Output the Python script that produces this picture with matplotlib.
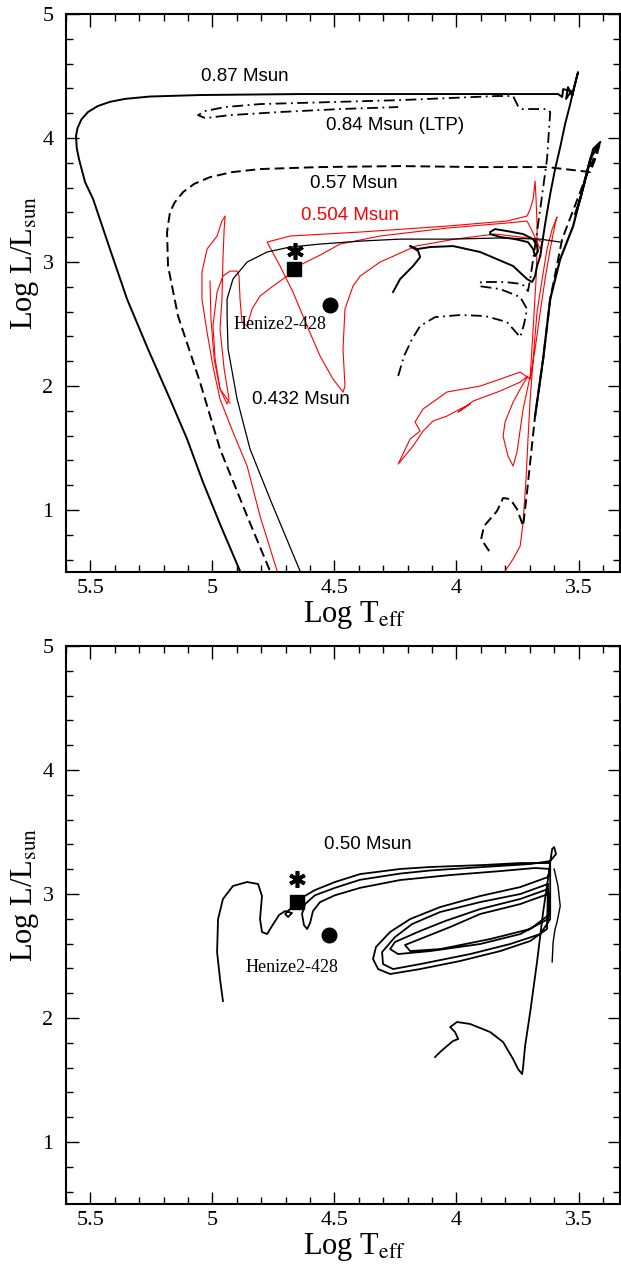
import matplotlib
matplotlib.use('Agg')
import matplotlib.pyplot as plt
from matplotlib.ticker import MultipleLocator, FuncFormatter

plt.rcParams['font.family'] = ['Liberation Serif', 'DejaVu Serif']
plt.rcParams['mathtext.fontset'] = 'stix'

# ---------------- data (log Teff, log L/Lsun) ----------------
# top panel tracks
trk_087_pre = [(4.260, 2.758), (4.231, 2.863), (4.178, 2.968), (4.149, 3.040), (4.157, 3.089),
               (4.190, 3.129), (4.161, 3.105), (4.108, 3.121), (4.014, 3.129), (3.903, 3.081),
               (3.768, 2.968), (3.711, 2.863), (3.690, 2.839), (3.678, 2.887), (3.670, 2.968),
               (3.657, 3.048)]
trk_087 = [(3.657, 3.048), (3.637, 3.306), (3.616, 3.548), (3.596, 3.750), (3.575, 3.927),
           (3.555, 4.113), (3.534, 4.274), (3.518, 4.411), (3.502, 4.532), (3.514, 4.435),
           (3.526, 4.339), (3.543, 4.411), (3.551, 4.315), (3.530, 4.379), (3.563, 4.395),
           (3.567, 4.331), (3.584, 4.355), (3.657, 4.355), (3.821, 4.355), (4.231, 4.355),
           (4.641, 4.355), (5.051, 4.347), (5.256, 4.335), (5.358, 4.316), (5.420, 4.292),
           (5.470, 4.258), (5.510, 4.210), (5.537, 4.150), (5.553, 4.080), (5.559, 4.016),
           (5.556, 3.920), (5.547, 3.831), (5.522, 3.645),
           (5.489, 3.508), (5.420, 3.105), (5.350, 2.702), (5.264, 2.298), (5.174, 1.895),
           (5.104, 1.573), (5.039, 1.226), (4.969, 0.887), (4.887, 0.508)]
trk_084 = [(4.239, 2.081), (4.215, 2.242), (4.182, 2.379), (4.149, 2.484), (4.088, 2.556),
           (3.985, 2.573), (3.883, 2.565), (3.793, 2.516), (3.739, 2.395), (3.723, 2.500),
           (3.711, 2.621), (3.739, 2.718), (3.821, 2.782), (3.907, 2.806), (3.899, 2.839),
           (3.801, 2.839), (3.731, 2.823), (3.707, 2.766), (3.698, 2.863), (3.678, 3.129),
           (3.657, 3.427), (3.629, 3.831), (3.616, 4.210), (3.629, 4.234), (3.731, 4.234),
           (3.748, 4.258), (3.768, 4.339), (3.834, 4.339), (4.026, 4.323), (4.231, 4.306),
           (4.518, 4.290), (4.805, 4.274), (4.948, 4.250), (5.030, 4.218), (5.059, 4.185),
           (5.030, 4.161), (4.928, 4.185), (4.723, 4.210), (4.477, 4.234), (4.239, 4.250)]
trk_057 = [(3.866, 0.669), (3.899, 0.766), (3.887, 0.871), (3.834, 0.992), (3.809, 1.097),
           (3.780, 1.089), (3.752, 1.008), (3.727, 0.871), (3.711, 1.145), (3.678, 1.758),
           (3.645, 2.218), (3.616, 2.702), (3.567, 3.185), (3.473, 3.669), (3.411, 3.968),
           (3.424, 3.871), (3.452, 3.726), (3.629, 3.766), (3.903, 3.766), (4.231, 3.774),
           (4.559, 3.766), (4.805, 3.750), (4.920, 3.725), (5.010, 3.685), (5.075, 3.630),
           (5.120, 3.565), (5.155, 3.480), (5.174, 3.403),
           (5.186, 3.242), (5.182, 2.968), (5.141, 2.565), (5.051, 2.032), (4.969, 1.492),
           (4.858, 0.952), (4.764, 0.508)]
trk_057_agb = [(3.678, 1.758), (3.645, 2.218), (3.616, 2.702), (3.575, 3.024), (3.522, 3.290),
               (3.452, 3.831), (3.411, 3.968), (3.440, 3.911), (3.493, 3.508), (3.514, 3.387)]
trk_0432 = [(3.575, 3.161), (3.657, 3.185), (3.821, 3.194), (4.026, 3.185), (4.231, 3.185),
            (4.395, 3.169), (4.559, 3.145), (4.682, 3.121), (4.776, 3.081), (4.858, 3.000),
            (4.916, 2.863), (4.940, 2.702), (4.940, 2.565), (4.936, 2.298), (4.899, 1.895),
            (4.846, 1.492), (4.764, 1.089), (4.641, 0.508)]
trk_0432_loop = [(3.862, 3.242), (3.842, 3.266), (3.793, 3.250), (3.727, 3.226), (3.686, 3.185),
                 (3.670, 3.129), (3.666, 3.089), (3.678, 3.048), (3.686, 3.105), (3.707, 3.161),
                 (3.760, 3.185), (3.821, 3.202), (3.862, 3.226)]
trk_0504 = [(3.801, 0.508), (3.768, 0.605), (3.739, 0.710), (3.727, 0.903), (3.715, 1.250),
            (3.707, 1.573), (3.698, 1.895), (3.686, 2.218), (3.670, 2.597), (3.649, 2.863),
            (3.629, 3.105), (3.608, 3.266), (3.588, 3.363), (3.596, 3.306), (3.616, 3.105),
            (3.637, 2.863), (3.657, 2.597), (3.678, 2.298), (3.698, 2.056),
            (3.739, 2.113), (3.821, 2.056), (3.903, 2.000), (4.039, 1.952), (4.137, 1.815),
            (4.170, 1.710), (4.149, 1.637), (4.190, 1.573), (4.239, 1.371), (4.178, 1.516),
            (4.137, 1.637), (4.096, 1.718), (4.039, 1.758), (3.985, 1.815), (3.944, 1.855),
            (3.993, 1.790), (3.932, 1.879), (3.821, 1.960), (3.739, 2.032), (3.707, 2.081),
            (3.739, 1.976), (3.768, 1.871), (3.801, 1.710), (3.809, 1.597), (3.789, 1.435),
            (3.768, 1.355), (3.752, 1.468), (3.727, 1.815), (3.698, 2.081),
            (3.686, 2.460), (3.674, 2.863), (3.670, 3.105), (3.670, 3.306), (3.674, 3.508),
            (3.678, 3.653), (3.686, 3.508), (3.698, 3.427), (3.711, 3.371), (3.793, 3.331),
            (4.039, 3.290), (4.395, 3.242), (4.682, 3.210), (4.776, 3.161),
            (4.723, 2.968), (4.670, 2.758), (4.612, 2.484), (4.559, 2.242), (4.506, 2.056),
            (4.465, 1.952), (4.457, 2.000), (4.465, 2.298), (4.457, 2.621), (4.424, 2.806),
            (4.395, 2.887), (4.313, 3.000), (4.166, 3.129), (4.006, 3.185), (3.842, 3.226),
            (3.739, 3.202), (3.670, 3.185), (3.649, 3.161), (3.657, 3.105), (3.690, 3.250),
            (3.711, 3.331), (3.793, 3.315), (4.039, 3.274), (4.313, 3.210), (4.477, 3.145),
            (4.559, 3.056), (4.641, 2.976), (4.694, 2.887), (4.752, 2.806), (4.805, 2.726),
            (4.838, 2.621), (4.858, 2.484),
            (4.879, 2.516), (4.887, 2.702), (4.891, 2.887), (4.899, 2.927), (4.928, 2.927),
            (4.957, 2.887), (4.981, 2.758), (4.998, 2.484), (4.989, 2.218), (4.969, 1.976),
            (4.940, 1.855), (4.932, 1.895), (4.952, 2.137), (4.969, 2.460), (4.961, 2.702),
            (4.957, 3.024), (4.952, 3.266), (4.948, 3.371), (4.961, 3.331), (4.981, 3.210),
            (5.022, 3.105), (5.043, 2.919), (5.043, 2.702), (5.022, 2.435), (4.998, 2.161),
            (4.969, 1.895), (4.916, 1.629), (4.858, 1.355), (4.805, 0.952), (4.735, 0.508)]
trk_0504_spike = [(5.010, 2.847), (5.006, 2.540), (4.993, 2.218), (4.969, 1.976), (4.928, 1.863)]

# bottom panel track (0.50 Msun)
trk_050 = [(4.088, 1.685), (4.067, 1.726), (4.039, 1.774), (4.014, 1.815), (3.993, 1.831),
           (4.006, 1.887), (4.026, 1.927), (3.998, 1.968), (3.944, 1.952), (3.862, 1.887),
           (3.809, 1.806), (3.768, 1.669), (3.748, 1.589), (3.731, 1.548), (3.727, 1.605),
           (3.719, 1.774), (3.698, 2.048), (3.670, 2.452), (3.645, 2.855), (3.625, 3.121),
           (3.616, 3.258), (3.608, 3.363), (3.600, 3.379), (3.592, 3.323),
           # first excursion (U shape)
           (3.616, 3.266), (3.698, 3.242), (3.891, 3.218), (4.108, 3.190), (4.231, 3.165),
           (4.395, 3.115), (4.498, 3.050), (4.580, 2.990), (4.620, 2.920), (4.633, 2.839),
           (4.625, 2.750), (4.612, 2.718), (4.600, 2.766), (4.588, 2.863), (4.559, 2.935),
           (4.498, 2.990), (4.395, 3.050), (4.231, 3.113), (4.026, 3.153), (3.821, 3.185),
           (3.678, 3.210), (3.616, 3.202),
           # helium sub-flash loops
           (3.625, 3.137), (3.739, 3.056), (3.903, 2.984), (4.067, 2.895), (4.190, 2.798),
           (4.272, 2.694), (4.330, 2.573), (4.342, 2.476), (4.321, 2.395), (4.272, 2.355),
           (4.149, 2.395), (3.985, 2.460), (3.821, 2.540), (3.698, 2.621), (3.629, 2.718),
           (3.625, 3.081), (3.739, 3.000), (3.903, 2.935), (4.067, 2.855), (4.182, 2.758),
           (4.252, 2.653), (4.305, 2.532), (4.301, 2.435), (4.260, 2.395), (4.149, 2.435),
           (3.944, 2.516), (3.780, 2.597), (3.657, 2.677), (3.616, 2.798),
           (3.625, 3.040), (3.739, 2.960), (3.903, 2.879), (4.047, 2.782), (4.149, 2.702),
           (4.252, 2.613), (4.272, 2.556), (4.239, 2.516), (4.108, 2.540), (3.903, 2.597),
           (3.739, 2.677), (3.625, 2.798),
           (3.625, 3.000), (3.739, 2.919), (3.903, 2.839), (4.026, 2.734), (4.129, 2.653),
           (4.211, 2.589), (4.190, 2.540), (4.067, 2.556), (3.862, 2.637), (3.698, 2.718),
           (3.616, 2.839),
           # final departure to the left
           (3.616, 3.250), (3.739, 3.250), (3.891, 3.234), (4.108, 3.218), (4.231, 3.202),
           (4.395, 3.161), (4.498, 3.097), (4.580, 3.032), (4.629, 2.976), (4.653, 2.935),
           (4.682, 2.879), (4.702, 2.839), (4.690, 2.815), (4.674, 2.847), (4.702, 2.863),
           (4.727, 2.831), (4.756, 2.742), (4.776, 2.677), (4.797, 2.694), (4.805, 2.798),
           (4.797, 2.984), (4.813, 3.081), (4.858, 3.097), (4.916, 3.065), (4.957, 2.960),
           (4.977, 2.798), (4.981, 2.532), (4.969, 2.315), (4.957, 2.137)]
trk_050_side = [(3.600, 3.202), (3.584, 3.065), (3.575, 2.903), (3.588, 2.774), (3.596, 2.718),
                (3.604, 2.613), (3.608, 2.452)]

# observed star (Henize2-428) symbols: [top, bottom]
square_T = [4.666, 4.653]
square_L = [2.944, 2.935]
aster_T = [4.661, 4.653]
aster_L = [3.089, 3.121]
circle_T = [4.518, 4.522]
circle_L = [2.653, 2.669]

# labels (text, logT, logL, colour)
top_labels = [("0.87 Msun", 4.866, 4.50, 'k'),
              ("0.84 Msun (LTP)", 4.252, 4.105, 'k'),
              ("0.57 Msun", 4.420, 3.637, 'k'),
              ("0.504 Msun", 4.436, 3.379, 'red'),
              ("0.432 Msun", 4.637, 1.895, 'k')]
bottom_labels = [("0.50 Msun", 4.362, 3.403, 'k')]
star_name = "Henize2-428"
star_name_pos = [(4.723, 2.50), (4.674, 2.411)]

x_limits = (5.6, 3.33)
y_limits = (0.5, 5.0)


def xy(track):
    return [p[0] for p in track], [p[1] for p in track]


def style(ax):
    ax.set_xlim(*x_limits)
    ax.set_ylim(*y_limits)
    ax.xaxis.set_major_locator(MultipleLocator(0.5))
    ax.xaxis.set_minor_locator(MultipleLocator(0.1))
    ax.yaxis.set_major_locator(MultipleLocator(1))
    ax.yaxis.set_minor_locator(MultipleLocator(0.2))
    fmt = FuncFormatter(lambda v, p: f'{v:g}')
    ax.xaxis.set_major_formatter(fmt)
    ax.yaxis.set_major_formatter(fmt)
    ax.tick_params(which='both', direction='in', top=True, right=True, width=1.0,
                   labelsize=16)
    ax.tick_params(which='major', length=9)
    ax.tick_params(axis='x', which='major', pad=5)
    ax.tick_params(axis='y', which='major', pad=9)
    ax.tick_params(which='minor', length=5)
    for s in ax.spines.values():
        s.set_linewidth(1.5)
    ax.set_xlabel(r'Log T$_{\rm eff}$', fontsize=22)
    ax.set_ylabel(r'Log L/L$_{\rm sun}$', fontsize=22)
    ax.xaxis.set_label_coords(0.52, -0.049)
    ax.yaxis.set_label_coords(-0.046, 0.555)


def star_symbols(ax, i):
    ax.plot(square_T[i], square_L[i], 's', color='k', ms=9.5, zorder=5)
    ax.plot(aster_T[i], aster_L[i], marker=(6, 2, 0), color='k', ms=12, mew=2.6, zorder=5)
    ax.plot(circle_T[i], circle_L[i], 'o', color='k', ms=10.5, zorder=5)
    ax.text(star_name_pos[i][0], star_name_pos[i][1], star_name, fontsize=13,
            ha='center', va='center', family=['Liberation Serif'])


fig = plt.figure(figsize=(6.21, 12.67), dpi=100)
ax1 = fig.add_axes([0.1063, 0.5485, 0.8921, 0.4404])
ax2 = fig.add_axes([0.1063, 0.0497, 0.8921, 0.4404])

# ---- top panel
ax1.plot(*xy(trk_0504), color='red', lw=0.8)
ax1.plot(*xy(trk_0504_spike), color='red', lw=0.8)
ax1.plot(*xy(trk_0432), color='k', lw=0.9)
ax1.plot(*xy(trk_0432_loop), color='k', lw=1.4)
ax1.plot(*xy(trk_057), color='k', lw=1.4, dashes=(5, 2.5))
ax1.plot(*xy(trk_057_agb), color='k', lw=1.6)
ax1.plot(*xy(trk_084), color='k', lw=1.3, dashes=(6, 2.5, 1, 2.5))
ax1.plot(*xy(trk_087_pre), color='k', lw=1.4)
ax1.plot(*xy(trk_087), color='k', lw=1.4)
for txt, tx, ty, c in top_labels:
    ax1.text(tx, ty, txt, color=c, fontsize=13.5, ha='center', va='center',
             family=['Liberation Sans'])
star_symbols(ax1, 0)
style(ax1)

# ---- bottom panel
ax2.plot(*xy(trk_050), color='k', lw=1.3)
ax2.plot(*xy(trk_050_side), color='k', lw=1.0)
for txt, tx, ty, c in bottom_labels:
    ax2.text(tx, ty, txt, color=c, fontsize=13.5, ha='center', va='center',
             family=['Liberation Sans'])
star_symbols(ax2, 1)
style(ax2)

fig.savefig('out.png', dpi=100)
